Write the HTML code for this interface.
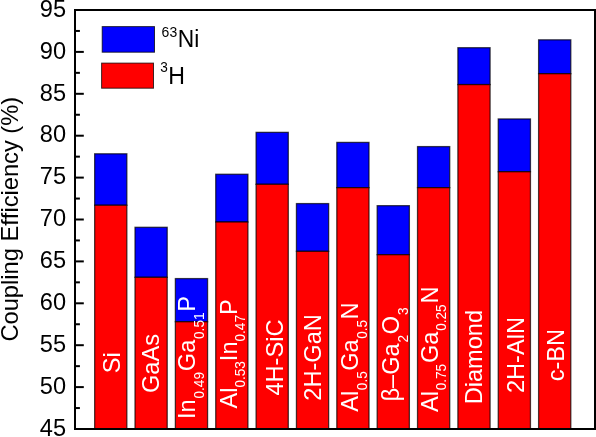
<!DOCTYPE html>
<html lang="en"><head><meta charset="utf-8"><title>Coupling Efficiency</title>
<style>html,body{margin:0;padding:0;background:#fff;}svg{display:block;}text{font-family:"Liberation Sans",Arial,sans-serif;font-kerning:none;}</style></head><body>
<svg width="596" height="437" viewBox="0 0 596 437">
<rect x="0" y="0" width="596" height="437" fill="#fff"/>
<rect x="94.65" y="153.80" width="32.2" height="51.45" fill="#0000ff" stroke="#000" stroke-opacity="0.7" stroke-width="1.3"/>
<rect x="94.65" y="205.25" width="32.2" height="223.75" fill="#ff0000" stroke="#000" stroke-opacity="0.7" stroke-width="1.3"/>
<rect x="135.01" y="227.29" width="32.2" height="50.03" fill="#0000ff" stroke="#000" stroke-opacity="0.7" stroke-width="1.3"/>
<rect x="135.01" y="277.32" width="32.2" height="151.68" fill="#ff0000" stroke="#000" stroke-opacity="0.7" stroke-width="1.3"/>
<rect x="175.37" y="278.58" width="32.2" height="43.16" fill="#0000ff" stroke="#000" stroke-opacity="0.7" stroke-width="1.3"/>
<rect x="175.37" y="321.74" width="32.2" height="107.26" fill="#ff0000" stroke="#000" stroke-opacity="0.7" stroke-width="1.3"/>
<rect x="215.73" y="174.25" width="32.2" height="47.77" fill="#0000ff" stroke="#000" stroke-opacity="0.7" stroke-width="1.3"/>
<rect x="215.73" y="222.01" width="32.2" height="206.99" fill="#ff0000" stroke="#000" stroke-opacity="0.7" stroke-width="1.3"/>
<rect x="256.09" y="132.35" width="32.2" height="51.96" fill="#0000ff" stroke="#000" stroke-opacity="0.7" stroke-width="1.3"/>
<rect x="256.09" y="184.30" width="32.2" height="244.70" fill="#ff0000" stroke="#000" stroke-opacity="0.7" stroke-width="1.3"/>
<rect x="296.45" y="203.58" width="32.2" height="47.77" fill="#0000ff" stroke="#000" stroke-opacity="0.7" stroke-width="1.3"/>
<rect x="296.45" y="251.34" width="32.2" height="177.66" fill="#ff0000" stroke="#000" stroke-opacity="0.7" stroke-width="1.3"/>
<rect x="336.81" y="142.40" width="32.2" height="45.25" fill="#0000ff" stroke="#000" stroke-opacity="0.7" stroke-width="1.3"/>
<rect x="336.81" y="187.66" width="32.2" height="241.34" fill="#ff0000" stroke="#000" stroke-opacity="0.7" stroke-width="1.3"/>
<rect x="377.17" y="205.67" width="32.2" height="49.02" fill="#0000ff" stroke="#000" stroke-opacity="0.7" stroke-width="1.3"/>
<rect x="377.17" y="254.70" width="32.2" height="174.30" fill="#ff0000" stroke="#000" stroke-opacity="0.7" stroke-width="1.3"/>
<rect x="417.53" y="146.59" width="32.2" height="41.06" fill="#0000ff" stroke="#000" stroke-opacity="0.7" stroke-width="1.3"/>
<rect x="417.53" y="187.66" width="32.2" height="241.34" fill="#ff0000" stroke="#000" stroke-opacity="0.7" stroke-width="1.3"/>
<rect x="457.89" y="47.71" width="32.2" height="36.87" fill="#0000ff" stroke="#000" stroke-opacity="0.7" stroke-width="1.3"/>
<rect x="457.89" y="84.58" width="32.2" height="344.42" fill="#ff0000" stroke="#000" stroke-opacity="0.7" stroke-width="1.3"/>
<rect x="498.25" y="118.94" width="32.2" height="52.79" fill="#0000ff" stroke="#000" stroke-opacity="0.7" stroke-width="1.3"/>
<rect x="498.25" y="171.73" width="32.2" height="257.27" fill="#ff0000" stroke="#000" stroke-opacity="0.7" stroke-width="1.3"/>
<rect x="538.61" y="39.83" width="32.2" height="33.86" fill="#0000ff" stroke="#000" stroke-opacity="0.7" stroke-width="1.3"/>
<rect x="538.61" y="73.69" width="32.2" height="355.31" fill="#ff0000" stroke="#000" stroke-opacity="0.7" stroke-width="1.3"/>
<rect x="75.0" y="10.0" width="520.0" height="419.0" fill="none" stroke="#000" stroke-width="2"/>
<line x1="75.0" y1="429.00" x2="83.8" y2="429.00" stroke="#000" stroke-width="2"/>
<line x1="75.0" y1="408.05" x2="79.9" y2="408.05" stroke="#000" stroke-width="2"/>
<line x1="75.0" y1="387.10" x2="83.8" y2="387.10" stroke="#000" stroke-width="2"/>
<line x1="75.0" y1="366.15" x2="79.9" y2="366.15" stroke="#000" stroke-width="2"/>
<line x1="75.0" y1="345.20" x2="83.8" y2="345.20" stroke="#000" stroke-width="2"/>
<line x1="75.0" y1="324.25" x2="79.9" y2="324.25" stroke="#000" stroke-width="2"/>
<line x1="75.0" y1="303.30" x2="83.8" y2="303.30" stroke="#000" stroke-width="2"/>
<line x1="75.0" y1="282.35" x2="79.9" y2="282.35" stroke="#000" stroke-width="2"/>
<line x1="75.0" y1="261.40" x2="83.8" y2="261.40" stroke="#000" stroke-width="2"/>
<line x1="75.0" y1="240.45" x2="79.9" y2="240.45" stroke="#000" stroke-width="2"/>
<line x1="75.0" y1="219.50" x2="83.8" y2="219.50" stroke="#000" stroke-width="2"/>
<line x1="75.0" y1="198.55" x2="79.9" y2="198.55" stroke="#000" stroke-width="2"/>
<line x1="75.0" y1="177.60" x2="83.8" y2="177.60" stroke="#000" stroke-width="2"/>
<line x1="75.0" y1="156.65" x2="79.9" y2="156.65" stroke="#000" stroke-width="2"/>
<line x1="75.0" y1="135.70" x2="83.8" y2="135.70" stroke="#000" stroke-width="2"/>
<line x1="75.0" y1="114.75" x2="79.9" y2="114.75" stroke="#000" stroke-width="2"/>
<line x1="75.0" y1="93.80" x2="83.8" y2="93.80" stroke="#000" stroke-width="2"/>
<line x1="75.0" y1="72.85" x2="79.9" y2="72.85" stroke="#000" stroke-width="2"/>
<line x1="75.0" y1="51.90" x2="83.8" y2="51.90" stroke="#000" stroke-width="2"/>
<line x1="75.0" y1="30.95" x2="79.9" y2="30.95" stroke="#000" stroke-width="2"/>
<line x1="75.0" y1="10.00" x2="83.8" y2="10.00" stroke="#000" stroke-width="2"/>
<text transform="translate(66,435.70) scale(1,1.04)" font-size="23.6" text-anchor="end" fill="#000">45</text>
<text transform="translate(66,393.80) scale(1,1.04)" font-size="23.6" text-anchor="end" fill="#000">50</text>
<text transform="translate(66,351.90) scale(1,1.04)" font-size="23.6" text-anchor="end" fill="#000">55</text>
<text transform="translate(66,310.00) scale(1,1.04)" font-size="23.6" text-anchor="end" fill="#000">60</text>
<text transform="translate(66,268.10) scale(1,1.04)" font-size="23.6" text-anchor="end" fill="#000">65</text>
<text transform="translate(66,226.20) scale(1,1.04)" font-size="23.6" text-anchor="end" fill="#000">70</text>
<text transform="translate(66,184.30) scale(1,1.04)" font-size="23.6" text-anchor="end" fill="#000">75</text>
<text transform="translate(66,142.40) scale(1,1.04)" font-size="23.6" text-anchor="end" fill="#000">80</text>
<text transform="translate(66,100.50) scale(1,1.04)" font-size="23.6" text-anchor="end" fill="#000">85</text>
<text transform="translate(66,58.60) scale(1,1.04)" font-size="23.6" text-anchor="end" fill="#000">90</text>
<text transform="translate(66,16.70) scale(1,1.04)" font-size="23.6" text-anchor="end" fill="#000">95</text>
<text transform="translate(17.5,219.2) rotate(-90) scale(1,1.04)" font-size="23.7" text-anchor="middle" fill="#000">Coupling Efficiency (%)</text>
<rect x="102.2" y="26.6" width="52.3" height="25.6" fill="#0000ff" stroke="#000" stroke-opacity="0.75" stroke-width="1"/>
<rect x="101.6" y="63.1" width="51.9" height="25.1" fill="#ff0000" stroke="#000" stroke-opacity="0.75" stroke-width="1"/>
<text transform="translate(161.6,47.4) scale(1,1.04)" font-size="22.8" fill="#000"><tspan font-size="14" dy="-10.4">63</tspan><tspan dy="10.4" dx="0.6">Ni</tspan></text>
<text transform="translate(160.3,83.7) scale(1,1.04)" font-size="23.1" fill="#000"><tspan font-size="13.6" dy="-11.1">3</tspan><tspan dy="11.1" dx="0.4">H</tspan></text>
<text transform="translate(119.60,362.85) rotate(-90) scale(1,1.04)" font-size="23.6" text-anchor="middle" fill="#fff"><tspan>Si</tspan></text>
<text transform="translate(158.70,363.50) rotate(-90) scale(1,1.04)" font-size="23.6" text-anchor="middle" fill="#fff"><tspan>GaAs</tspan></text>
<text transform="translate(195.20,357.45) rotate(-90) scale(1,1.04)" font-size="23.6" text-anchor="middle" fill="#fff"><tspan>In</tspan><tspan font-size="13.6" dy="8.4" dx="0.8">0.49</tspan><tspan dy="-8.4" dx="0.8">Ga</tspan><tspan font-size="13.6" dy="8.4" dx="0.8">0.51</tspan><tspan dy="-8.4" dx="0.8">P</tspan></text>
<text transform="translate(236.60,353.95) rotate(-90) scale(1,1.04)" font-size="23.6" text-anchor="middle" fill="#fff"><tspan>Al</tspan><tspan font-size="13.6" dy="8.4" dx="0.0">0.53</tspan><tspan dy="-8.4" dx="0.0">In</tspan><tspan font-size="13.6" dy="8.4" dx="0.0">0.47</tspan><tspan dy="-8.4" dx="0.0">P</tspan></text>
<text transform="translate(282.90,357.60) rotate(-90) scale(1,1.04)" font-size="23.6" text-anchor="middle" fill="#fff"><tspan>4H-SiC</tspan></text>
<text transform="translate(321.10,357.45) rotate(-90) scale(1,1.04)" font-size="23.6" text-anchor="middle" fill="#fff"><tspan>2H-GaN</tspan></text>
<text transform="translate(358.20,357.00) rotate(-90) scale(1,1.04)" font-size="23.6" text-anchor="middle" fill="#fff"><tspan>Al</tspan><tspan font-size="13.6" dy="8.4" dx="0.5">0.5</tspan><tspan dy="-8.4" dx="0.5">Ga</tspan><tspan font-size="13.6" dy="8.4" dx="0.5">0.5</tspan><tspan dy="-8.4" dx="0.5">N</tspan></text>
<text transform="translate(398.80,354.50) rotate(-90) scale(1,1.04)" font-size="23.6" text-anchor="middle" fill="#fff"><tspan>β–Ga</tspan><tspan font-size="13.6" dy="8.4" dx="0.8">2</tspan><tspan dy="-8.4" dx="0.8">O</tspan><tspan font-size="13.6" dy="8.4" dx="0.8">3</tspan></text>
<text transform="translate(437.50,349.30) rotate(-90) scale(1,1.04)" font-size="23.6" text-anchor="middle" fill="#fff"><tspan>Al</tspan><tspan font-size="13.6" dy="8.4" dx="0.8">0.75</tspan><tspan dy="-8.4" dx="0.8">Ga</tspan><tspan font-size="13.6" dy="8.4" dx="0.8">0.25</tspan><tspan dy="-8.4" dx="0.8">N</tspan></text>
<text transform="translate(482.00,357.15) rotate(-90) scale(1,1.04)" font-size="23.6" text-anchor="middle" fill="#fff"><tspan>Diamond</tspan></text>
<text transform="translate(524.10,355.05) rotate(-90) scale(1,1.04)" font-size="23.6" text-anchor="middle" fill="#fff"><tspan>2H-AlN</tspan></text>
<text transform="translate(563.80,355.10) rotate(-90) scale(1,1.04)" font-size="23.6" text-anchor="middle" fill="#fff"><tspan>c-BN</tspan></text>
</svg></body></html>
